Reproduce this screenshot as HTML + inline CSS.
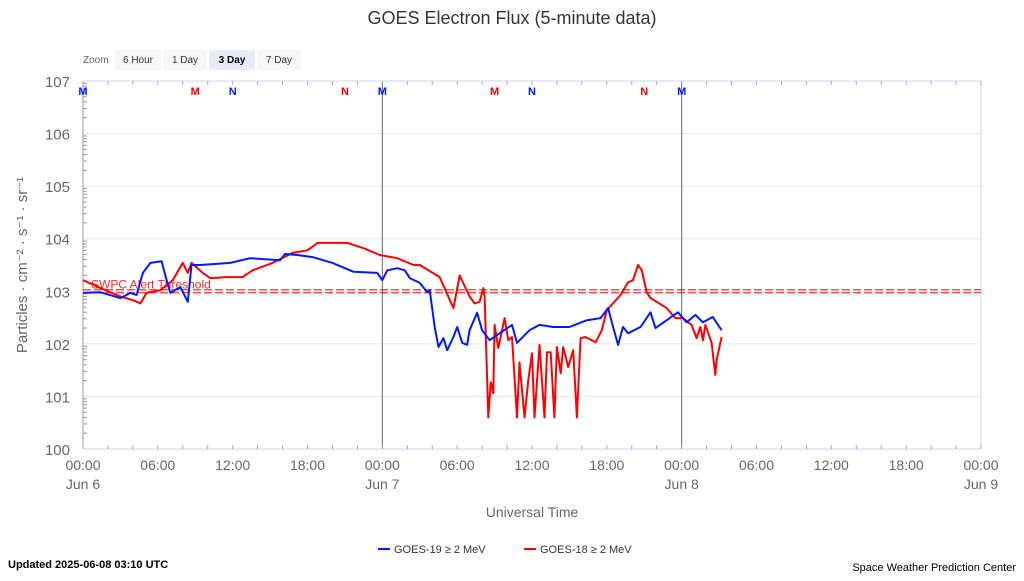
<!DOCTYPE html>
<html><head><meta charset="utf-8"><style>
body{margin:0;width:1024px;height:576px;background:#fff;overflow:hidden;font-family:"Liberation Sans",sans-serif}
svg text{font-family:"Liberation Sans","DejaVu Sans",sans-serif}
</style></head><body>
<svg id="chart" width="1024" height="576">
<text x="512" y="24" text-anchor="middle" font-size="18" fill="#333">GOES Electron Flux (5-minute data)</text>
<g>
<text x="83" y="63" font-size="10" fill="#666">Zoom</text>
<rect x="115" y="50" width="46" height="20" fill="#f7f7f7"/>
<text x="138" y="63" font-size="10" text-anchor="middle" fill="#333">6 Hour</text>
<rect x="163" y="50" width="44" height="20" fill="#f7f7f7"/>
<text x="185" y="63" font-size="10" text-anchor="middle" fill="#333">1 Day</text>
<rect x="209" y="50" width="46" height="20" fill="#e6ebf5"/>
<text x="232" y="63" font-size="10" text-anchor="middle" fill="#000" font-weight="bold">3 Day</text>
<rect x="257" y="50" width="44" height="20" fill="#f7f7f7"/>
<text x="279" y="63" font-size="10" text-anchor="middle" fill="#333">7 Day</text>
</g>
<g id="grid"></g>
<g id="axes"></g>
<g id="series"></g>
<text transform="translate(27,265) rotate(-90)" text-anchor="middle" font-size="15" fill="#666">Particles · cm⁻² · s⁻¹ · sr⁻¹</text>
<text x="532" y="517" text-anchor="middle" font-size="14" fill="#666">Universal Time</text>
<g>
<g><line x1="378" y1="549" x2="390" y2="549" stroke="#0019ff" stroke-width="2"/><text x="394" y="553" font-size="11" fill="#333">GOES-19 ≥ 2 MeV</text></g>
<g><line x1="524" y1="549" x2="536" y2="549" stroke="#ff0000" stroke-width="2"/><text x="540" y="553" font-size="11" fill="#333">GOES-18 ≥ 2 MeV</text></g>
</g>
<text x="8" y="568" font-size="11" font-weight="bold" fill="#000">Updated 2025-06-08 03:10 UTC</text>
<text x="1016" y="571" font-size="11" text-anchor="end" fill="#000">Space Weather Prediction Center</text>
</svg>
<script>
const yTicks=[0,1,2,3,4,5,6,7];
const xTickHours=[0,6,12,18,24,30,36,42,48,54,60,66,72];
const xTickLabels=["00:00","06:00","12:00","18:00","00:00","06:00","12:00","18:00","00:00","06:00","12:00","18:00","00:00"];
const xDayLabels=["Jun 6","","","","Jun 7","","","","Jun 8","","","","Jun 9"];
const threshold=3;
const g19Hours=[0,1.4,3.0,3.8,4.3,4.8,5.4,6.3,6.7,7.0,7.8,8.4,8.7,9.4,11.8,13.4,15.8,16.2,17.2,18.4,20.0,21.7,23.6,24,24.4,25.2,25.8,26.2,27,27.6,27.8,28.2,28.5,28.9,29.2,29.7,30.0,30.4,30.8,31.0,31.6,32.0,32.6,33.4,34.4,34.8,35.8,36.6,37.7,39.0,40.4,41.5,42.1,42.5,42.9,43.3,43.7,44.7,45.5,45.9,46.8,47.7,48.4,49.1,49.7,50.5,51.2];
const g19Log=[2.97,2.98,2.87,2.97,2.93,3.35,3.54,3.57,3.21,2.97,3.08,2.8,3.5,3.5,3.54,3.63,3.59,3.71,3.69,3.65,3.54,3.37,3.35,3.21,3.4,3.44,3.4,3.25,3.16,2.98,3.02,2.32,1.94,2.11,1.88,2.13,2.32,2.02,1.98,2.26,2.59,2.26,2.07,2.2,2.36,2.02,2.26,2.36,2.32,2.32,2.45,2.49,2.68,2.32,1.98,2.32,2.2,2.32,2.6,2.3,2.45,2.6,2.41,2.55,2.41,2.51,2.26];
const g18Hours=[0,1.4,3,4,4.6,5.1,6.2,7.2,8.0,8.4,8.7,9.6,10.2,11.5,12.8,13.6,15.2,16.8,18.0,18.8,20,21.2,22.5,23.8,25.2,26.5,27.0,28.6,29.7,30.2,31,31.4,31.8,32.1,32.2,32.5,32.7,32.9,33.0,33.3,33.8,34.1,34.4,34.8,35.0,35.4,35.7,36.0,36.2,36.6,37.0,37.2,37.5,37.8,38.0,38.3,38.5,38.9,39.3,39.6,39.9,40.3,41.1,41.6,42.0,43.1,43.7,44.1,44.5,44.8,45.2,45.5,46.0,46.8,47.5,48.1,48.8,49.2,49.5,49.7,49.9,50.4,50.7,50.8,51.2];
const g18Log=[3.21,3.06,2.9,2.83,2.77,2.97,3.02,3.21,3.54,3.35,3.54,3.35,3.25,3.27,3.27,3.4,3.54,3.73,3.78,3.92,3.92,3.92,3.82,3.69,3.63,3.5,3.5,3.27,2.68,3.3,2.9,2.77,2.8,3.06,2.9,0.6,1.27,1.06,2.36,1.92,2.49,2.07,2.13,0.6,1.65,0.6,1.31,1.82,0.6,1.98,0.6,1.84,1.84,0.6,1.94,1.44,1.94,1.56,1.88,0.6,2.11,2.13,2.03,2.26,2.64,2.93,3.17,3.21,3.5,3.4,2.98,2.87,2.8,2.68,2.49,2.49,2.36,2.11,2.32,2.07,2.36,2.02,1.41,1.69,2.13];
const markerHours=[0,9,12,21,24,33,36,45,48];
const markerLetters=["M","M","N","N","M","M","N","N","M"];
const markerSat=[19,18,19,18,19,18,19,18,19];
const X0=83,X1=981,Y0=449,Y1=81;
const xs=h=>X0+(X1-X0)*h/72;
const ys=v=>Y0-(Y0-Y1)*v/7;
const NS="http://www.w3.org/2000/svg";
function mk(tag,attrs,parent){const e=document.createElementNS(NS,tag);for(const k in attrs)e.setAttribute(k,attrs[k]);parent.appendChild(e);return e;}
const grid=document.getElementById('grid'),axes=document.getElementById('axes'),ser=document.getElementById('series');
yTicks.forEach(t=>{
  if(t>0&&t<7){const l=mk('line',{x1:X0,x2:X1,y1:ys(t),y2:ys(t),stroke:'#e6e6e6'},grid);
  
  }
  const tx=mk('text',{x:70,y:ys(t)+6,'text-anchor':'end','font-size':15,fill:'#666'},axes);
  tx.textContent='10'+t;
  
  
  for(let m=2;m<10;m++){if(t<7){const yy=ys(t+Math.log10(m));mk('line',{x1:X0,x2:X0+4,y1:yy,y2:yy,stroke:'#999'},axes);}}
});
mk('line',{x1:X0,x2:X1,y1:Y1,y2:Y1,stroke:'#ccd6eb'},axes);
mk('line',{x1:X0,x2:X1,y1:Y0,y2:Y0,stroke:'#ccd6eb'},axes);
mk('line',{x1:X0,x2:X0,y1:Y1,y2:Y0,stroke:'#999'},axes);
mk('line',{x1:X1,x2:X1,y1:Y1,y2:Y0,stroke:'#ccd6eb'},axes);
for(let h=0;h<=72;h+=2){mk('line',{x1:xs(h),x2:xs(h),y1:Y0,y2:Y0-4,stroke:'#aaa'},axes);mk('line',{x1:xs(h),x2:xs(h),y1:Y1,y2:Y1+4,stroke:'#aaa'},axes);}
xTickHours.forEach((h,i)=>{
  const t=mk('text',{x:xs(h),y:470,'text-anchor':'middle','font-size':14,fill:'#666'},axes);
  t.textContent=xTickLabels[i];
  
  
  if(xDayLabels[i]){const d=mk('text',{x:xs(h),y:489,'text-anchor':'middle','font-size':14,fill:'#666'},axes);d.textContent=xDayLabels[i];
  
  }
});
[24,48].forEach(h=>{const l=mk('line',{x1:xs(h),x2:xs(h),y1:Y1,y2:Y0,stroke:'#666'},grid);
  
  });
markerHours.forEach((h,i)=>{const t=mk('text',{x:xs(h),y:95,'text-anchor':'middle','font-size':11,'font-weight':'bold',fill:markerSat[i]===19?'#0019ff':'#ff0000'},axes);
  t.textContent=markerLetters[i];
  
  });
[-1.5,1.5].forEach(o=>{const l=mk('line',{x1:X0,x2:X1,y1:ys(threshold)+o,y2:ys(threshold)+o,stroke:'#ff0000','stroke-dasharray':'8,3','stroke-width':1.3,opacity:0.8},ser);
  
  });
const tl=mk('text',{x:91,y:ys(threshold)-3,'font-size':12,fill:'#ff0000',opacity:0.85},ser);
tl.textContent='SWPC Alert Threshold';


function path(hs,vs,color,name){const d=hs.map((h,i)=>(i?'L':'M')+xs(h).toFixed(1)+','+ys(vs[i]).toFixed(1)).join('');
  const p=mk('path',{d:d,fill:'none',stroke:color,'stroke-width':2,'stroke-linejoin':'round'},ser);
  
  }
path(g18Hours,g18Log,'#ff0000','goes18-line');
path(g19Hours,g19Log,'#0019ff','goes19-line');
</script>
</body></html>
